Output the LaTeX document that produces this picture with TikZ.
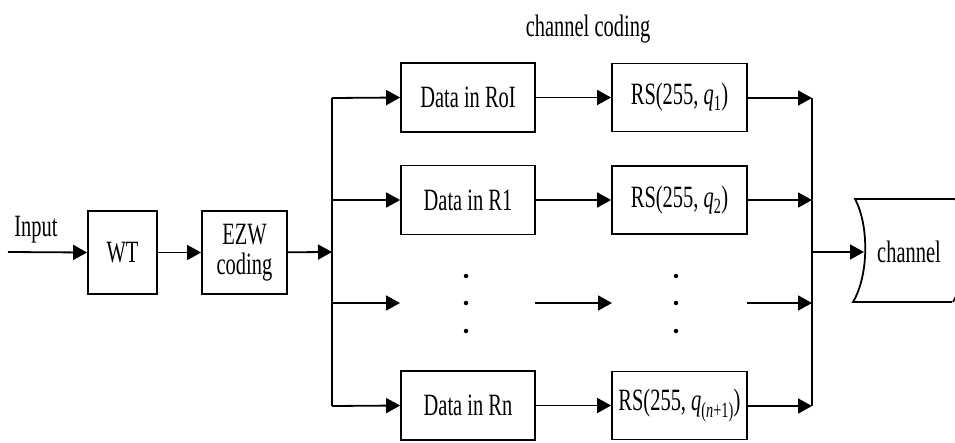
\documentclass[tikz,border=0pt]{standalone}
\usepackage{fontspec}
\usepackage{graphicx}
\setmainfont{Liberation Serif}
\usetikzlibrary{arrows.meta}
% condensed serif lettering
\newcommand\narrow[1]{\scalebox{0.66}[1]{#1}}

\begin{document}
\begin{tikzpicture}[x=1pt,y=-1pt,
  line/.style={line width=1.8pt},
  flow/.style={line,-{Triangle[length=14pt,width=15pt]}},
  block/.style={draw,line width=1.8pt,inner sep=0pt,align=center,
    font=\fontsize{31}{34}\selectfont},
  datablock/.style={block,minimum width=134pt,minimum height=69pt},
  rsblock/.style={block,minimum width=135pt,minimum height=68pt},
  txt/.style={inner sep=0pt,font=\fontsize{31}{34}\selectfont},
  dot/.style={circle,fill,inner sep=0pt,minimum size=4.5pt}
]
\useasboundingbox (0,0) rectangle (955,442);

% source chain
\node[txt] (inlbl) at (36,230) {\narrow{Input}};
\coordinate (src) at (8,252);
\node[block,minimum width=69pt,minimum height=83pt] (wt) at (122.5,252.5) {\narrow{WT}};
\node[block,minimum width=85pt,minimum height=83pt] (ezw) at (244.5,252.5)
  {\narrow{EZW}\\[-4pt]\narrow{coding}};

% splitting bus
\coordinate (split) at (332,252);
\coordinate (bt) at (332,98);
\coordinate (b1) at (332,200);
\coordinate (b2) at (332,303);
\coordinate (bb) at (332,406);

% merging bus
\coordinate (mt) at (812,98);
\coordinate (m1) at (812,200);
\coordinate (m2) at (812,303);
\coordinate (mb) at (812,406);
\coordinate (mc) at (812,252);

% title
\node[txt] (title) at (588,29) {\narrow{channel coding}};

% branch blocks
\node[datablock] (d0) at (468,97.5) {\narrow{Data in RoI}};
\node[datablock] (d1) at (468,200) {\narrow{Data in R1}};
\node[datablock] (dn) at (468,405.5) {\narrow{Data in Rn}};
\node[rsblock] (r0) at (679.5,97.5) {\narrow{RS(255, \textit{q}\textsubscript{1})}};
\node[rsblock] (r1) at (679.5,200) {\narrow{RS(255, \textit{q}\textsubscript{2})}};
\node[rsblock] (rn) at (679.5,405.5) {\narrow{RS(255, \textit{q}\textsubscript{(\textit{n}+1)})}};

% elided branch
\coordinate (e1) at (400,303);
\coordinate (e2) at (535,303);
\coordinate (e3) at (612,303);
\coordinate (e4) at (747,303);
\foreach \yy/\nm in {276/a,303/b,331/c}{
  \node[dot] (ld\nm) at (466,\yy) {};
  \node[dot] (rd\nm) at (676,\yy) {};
}

% channel
\begin{scope}
\clip (0,0) rectangle (955,442);
\draw[line] (966,199) -- (855,199)
  .. controls (869,225) and (869,275) .. (853,302) -- (952,302);
\draw[line] (955,199) .. controls (969,225) and (969,275) .. (953,302);
\end{scope}
\coordinate (chin) at (864,252);
\node[txt] (ch) at (909,252) {\narrow{channel}};

% connectors
\draw[flow] (src) -- (wt.west);
\draw[flow] (wt) -- (ezw);
\draw[flow] (ezw) -- (split);
\draw[line] (bt) -- (bb);
\draw[flow] (bt) -- (d0.west);
\draw[flow] (b1) -- (d1.west);
\draw[flow] (b2) -- (e1);
\draw[flow] (bb) -- (dn.west);
\draw[flow] (d0) -- (r0);
\draw[flow] (d1) -- (r1);
\draw[flow] (e2) -- (e3);
\draw[flow] (dn) -- (rn);
\draw[flow] (r0.east|-mt) -- (mt);
\draw[flow] (r1.east|-m1) -- (m1);
\draw[flow] (e4) -- (m2);
\draw[flow] (rn.east|-mb) -- (mb);
\draw[line] (mt) -- (mb);
\draw[flow] (mc) -- (chin);
\end{tikzpicture}
\end{document}
